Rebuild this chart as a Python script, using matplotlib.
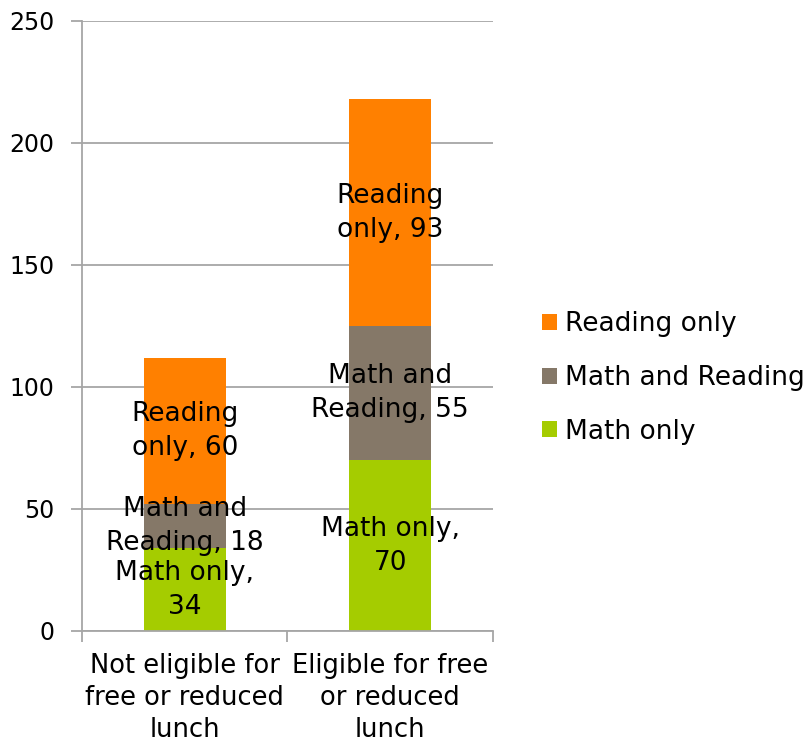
import matplotlib
matplotlib.use("Agg")
import matplotlib.pyplot as plt
import numpy as np

categories = ["Not eligible for\nfree or reduced\nlunch", "Eligible for free\nor reduced\nlunch"]
series_names = ["Math only", "Math and Reading", "Reading only"]
math_only = [34, 70]
math_and_reading = [18, 55]
reading_only = [60, 93]
label_text = {
	"Math only": "Math only,\n{}",
	"Math and Reading": "Math and\nReading, {}",
	"Reading only": "Reading\nonly, {}",
}
colors = ["#A5CC00", "#857868", "#FF8000"]

plt.rcParams["font.family"] = ["DejaVu Sans"]

fig = plt.figure(figsize=(8.11, 7.44), dpi=100)
ax = fig.add_axes([0.1011, 0.1519, 0.5068, 0.8199])

x = np.arange(len(categories))
bottom = np.zeros(len(categories))
handles = []
for name, vals, col in zip(series_names, [math_only, math_and_reading, reading_only], colors):
	bars = ax.bar(x, vals, width=0.4, bottom=bottom, color=col, zorder=2, label=name)
	ax.bar_label(
		bars,
		labels=[label_text[name].format(v) for v in vals],
		label_type="center",
		fontsize=19,
		color="black",
		linespacing=1.4,
		zorder=3,
	)
	bottom += np.array(vals)
	handles.append(bars)

ax.set_xlim(-0.5, 1.5)
ax.set_ylim(0, 250)
ax.set_yticks([0, 50, 100, 150, 200, 250])
ax.yaxis.grid(True, color="#A6A6A6", linewidth=1.3, zorder=0)
ax.set_axisbelow(True)

ax.set_xticks(x)
ax.set_xticklabels(categories, fontsize=18.5, linespacing=1.3)
ax.set_xticks([-0.5, 0.5, 1.5], minor=True)
ax.tick_params(axis="x", which="major", length=0, pad=16)
ax.tick_params(axis="x", which="minor", length=8, color="#A6A6A6", width=1.3)
ax.tick_params(axis="y", length=8, color="#A6A6A6", width=1.3, labelsize=17, pad=12)

for side in ["top", "right"]:
	ax.spines[side].set_visible(False)
for side in ["left", "bottom"]:
	ax.spines[side].set_color("#A6A6A6")
	ax.spines[side].set_linewidth(1.3)

leg = fig.legend(
	handles[::-1],
	series_names[::-1],
	loc="center left",
	bbox_to_anchor=(0.668, 0.492),
	frameon=False,
	fontsize=19,
	handlelength=0.57,
	handleheight=0.57,
	handletextpad=0.3,
	labelspacing=1.05,
	borderpad=0,
	borderaxespad=0,
)

fig.savefig("out.png", dpi=100)
